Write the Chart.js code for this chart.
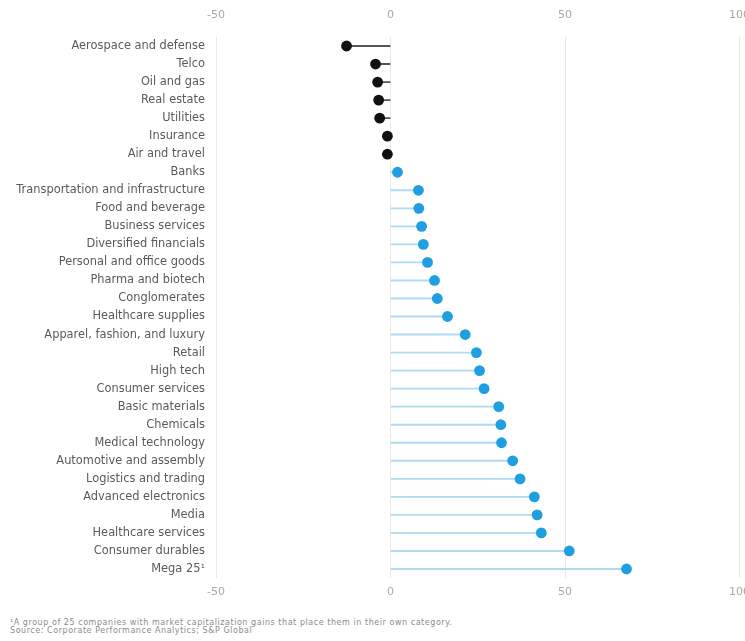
<!DOCTYPE html>
<html>
<head>
<meta charset="utf-8">
<script src="https://cdn.jsdelivr.net/npm/chart.js@4"></script>
<style>
  html, body { margin: 0; padding: 0; background: #fff; }
  #wrap { position: relative; width: 745px; height: 641px; overflow: hidden; }
  #c { position: absolute; left: 0; top: 0; }
  #notes { position: absolute; left: 10px; top: 619px; font-family: "DejaVu Sans", sans-serif; font-size: 8px; line-height: 8px; color: #8a8a8a; letter-spacing: 0.55px; }
</style>
</head>
<body>
<div id="wrap">
  <canvas id="c" width="745" height="612"></canvas>
  <div id="notes">
    <div>¹A group of 25 companies with market capitalization gains that place them in their own category.</div>
    <div>Source: Corporate Performance Analytics; S&amp;P Global</div>
  </div>
</div>
<script>
const categories = [
  "Aerospace and defense", "Telco", "Oil and gas", "Real estate", "Utilities",
  "Insurance", "Air and travel", "Banks", "Transportation and infrastructure",
  "Food and beverage", "Business services", "Diversified financials",
  "Personal and office goods", "Pharma and biotech", "Conglomerates",
  "Healthcare supplies", "Apparel, fashion, and luxury", "Retail", "High tech",
  "Consumer services", "Basic materials", "Chemicals", "Medical technology",
  "Automotive and assembly", "Logistics and trading", "Advanced electronics",
  "Media", "Healthcare services", "Consumer durables", "Mega 25¹"
];
const values = [
  -12.6, -4.3, -3.7, -3.4, -3.1,
  -0.9, -0.9, 2.0, 8.0,
  8.1, 8.9, 9.4,
  10.6, 12.6, 13.4,
  16.3, 21.4, 24.6, 25.5,
  26.8, 31.0, 31.6, 31.8,
  35.0, 37.1, 41.2,
  42.0, 43.2, 51.2, 67.6
];
const tickValues = [-50, 0, 50, 100];

const dotColor = v => v < 0 ? '#111111' : '#1f9fe0';
const stemColor = v => v < 0 ? '#555555' : '#afdaf1';

new Chart(document.getElementById('c'), {
  type: 'bar',
  data: {
    labels: categories,
    datasets: [
      {
        type: 'line',
        data: values,
        showLine: false,
        pointRadius: 5.4,
        pointHoverRadius: 5.4,
        pointBorderWidth: 0,
        pointBackgroundColor: values.map(dotColor),
        pointBorderColor: values.map(dotColor),
        xAxisID: 'x',
        order: 0
      },
      {
        type: 'bar',
        data: values,
        barThickness: 1.2,
        backgroundColor: values.map(stemColor),
        borderWidth: 0,
        xAxisID: 'x',
        order: 1
      }
    ]
  },
  options: {
    indexAxis: 'y',
    responsive: false,
    animation: false,
    events: [],
    layout: { padding: { left: 0, right: 5, top: 0, bottom: 0 } },
    plugins: { legend: { display: false }, tooltip: { enabled: false } },
    scales: {
      x: {
        type: 'linear',
        position: 'bottom',
        min: -50, max: 100,
        afterBuildTicks: s => { s.ticks = tickValues.map(v => ({ value: v })); },
        afterFit: s => { s.paddingLeft = 0; s.paddingRight = 0; s.height = 34; },
        grid: { color: '#e8e8e8', lineWidth: 1, drawTicks: false },
        border: { display: false },
        ticks: {
          padding: 8,
          color: '#a8a8a8',
          font: { family: "'DejaVu Sans', sans-serif", size: 11 },
          callback: v => v
        }
      },
      x2: {
        type: 'linear',
        position: 'top',
        min: -50, max: 100,
        afterBuildTicks: s => { s.ticks = tickValues.map(v => ({ value: v })); },
        afterFit: s => { s.paddingLeft = 0; s.paddingRight = 0; s.height = 37; },
        grid: { display: false, drawTicks: false },
        border: { display: false },
        ticks: {
          padding: 15,
          color: '#a8a8a8',
          font: { family: "'DejaVu Sans', sans-serif", size: 11 },
          callback: v => v
        }
      },
      y: {
        type: 'category',
        offset: true,
        afterFit: s => { s.width = 216; },
        grid: { display: false, drawTicks: false },
        border: { display: false },
        ticks: {
          padding: 11,
          color: '#5a5a5a',
          autoSkip: false,
          font: { family: "'DejaVu Sans', sans-serif", size: 11.4 }
        }
      }
    }
  }
});
</script>
</body>
</html>
